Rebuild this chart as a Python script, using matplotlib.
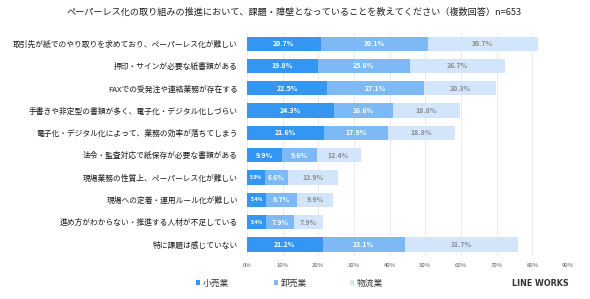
import matplotlib
matplotlib.use("Agg")
import matplotlib.pyplot as plt
import numpy as np

plt.rcParams["font.family"] = ["Noto Sans CJK JP", "DejaVu Sans"]

TITLE = "ペーパーレス化の取り組みの推進において、課題・障壁となっていることを教えてください（複数回答）n=653"

categories = [
    "取引先が紙でのやり取りを求めており、ペーパーレス化が難しい",
    "押印・サインが必要な紙書類がある",
    "FAXでの受発注や連絡業務が存在する",
    "手書きや非定型の書類が多く、電子化・デジタル化しづらい",
    "電子化・デジタル化によって、業務の効率が落ちてしまう",
    "法令・監査対応で紙保存が必要な書類がある",
    "現場業務の性質上、ペーパーレス化が難しい",
    "現場への定着・運用ルール化が難しい",
    "進め方がわからない・推進する人材が不足している",
    "特に課題は感じていない",
]
retail = [20.7, 19.8, 22.5, 24.3, 21.6, 9.9, 5.0, 5.4, 5.4, 21.2]
wholesale = [30.1, 25.8, 27.1, 16.6, 17.9, 9.6, 6.6, 8.7, 7.9, 23.1]
logistics = [30.7, 26.7, 20.3, 18.8, 18.8, 12.4, 13.9, 9.9, 7.9, 31.7]
series_names = ["小売業", "卸売業", "物流業"]
x_ticks = [0, 10, 20, 30, 40, 50, 60, 70, 80, 90]

colors = ["#3396f2", "#7db9f4", "#d2e5fb"]
text_colors = ["white", "white", "#8a8a8a"]

fig = plt.figure(figsize=(5.9, 2.99), dpi=100)
ax = fig.add_axes([247 / 590, 43.3 / 299, 321 / 590, 223.2 / 299])

y = np.arange(len(categories))
left = np.zeros(len(categories))
handles = []
for vals, col, tcol, name in zip([retail, wholesale, logistics], colors, text_colors, series_names):
    vals = np.array(vals)
    bars = ax.barh(y, vals, left=left, height=0.64, color=col, label=name, zorder=2)
    handles.append(bars)
    for yi, (l, v) in enumerate(zip(left, vals)):
        fs = 3.6 if v < 6 else 5.0
        ax.text(l + v / 2, yi, f"{v:.1f}%", ha="center", va="center",
                fontsize=fs, color=tcol, fontweight="bold", zorder=3)
    left = left + vals

ax.set_xlim(0, 90)
ax.set_ylim(len(categories) - 0.5, -0.5)
ax.set_yticks(y)
ax.set_yticklabels(categories, fontsize=5.6, color="#1a1a1a")
ax.set_xticks(x_ticks)
ax.set_xticklabels([f"{t}%" for t in x_ticks], fontsize=4.3, color="#555555")
ax.tick_params(axis="y", length=0, pad=6.5)
ax.tick_params(axis="x", length=0, pad=5)
ax.grid(True, axis="x", color="#e6e6e6", lw=0.6, zorder=0)
for s in ax.spines.values():
    s.set_visible(False)

fig.text(294 / 590, 1 - 12.5 / 299, TITLE, ha="center", va="center", fontsize=6.6, color="#222222")

# legend entries placed individually
leg_x = [196, 274, 350]
for h, name, lx in zip(handles, series_names, leg_x):
    fig.legend(handles=[h], labels=[name], loc="center left",
               bbox_to_anchor=(lx / 590, 1 - 283 / 299), frameon=False,
               fontsize=6.3, handlelength=0.5, handleheight=0.5, handletextpad=0.3,
               borderpad=0, borderaxespad=0, labelcolor="#333333")

fig.text(569 / 590, 1 - 283 / 299, "LINE WORKS", ha="right", va="center",
         fontsize=5.8, fontweight="bold", color="#333333", family=["DejaVu Sans"])

fig.savefig("out.png", dpi=100, facecolor="white")
